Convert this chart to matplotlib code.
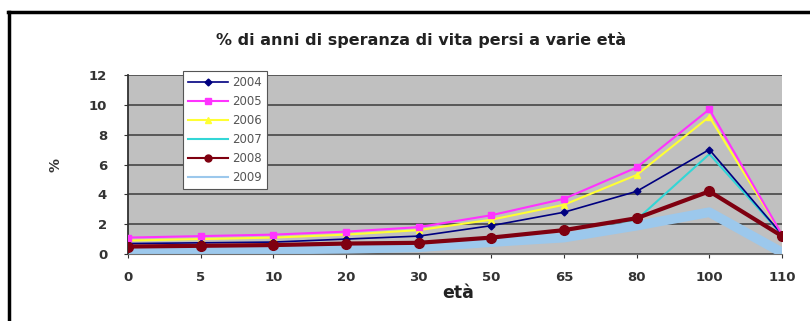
import matplotlib
matplotlib.use("Agg")
import matplotlib.pyplot as plt
from matplotlib.lines import Line2D

plt.rcParams['font.family'] = ['DejaVu Sans']

ages = ["0", "5", "10", "20", "30", "50", "65", "80", "100", "110"]
years = ["2004", "2005", "2006", "2007", "2008", "2009"]

v2004 = [0.7, 0.75, 0.8, 1.0, 1.2, 1.9, 2.8, 4.2, 7.0, 1.3]
v2005 = [1.1, 1.2, 1.3, 1.5, 1.8, 2.6, 3.7, 5.8, 9.7, 1.3]
v2006 = [0.9, 1.0, 1.1, 1.3, 1.6, 2.3, 3.3, 5.3, 9.2, 1.3]
v2007 = [0.5, 0.55, 0.6, 0.7, 0.8, 1.1, 1.6, 2.3, 6.7, 1.3]
v2008 = [0.5, 0.55, 0.6, 0.7, 0.75, 1.1, 1.6, 2.4, 4.2, 1.2]
v2009 = [0.3, 0.3, 0.3, 0.35, 0.45, 0.8, 1.1, 1.9, 2.8, 0.1]

W, H = 810, 321
fig = plt.figure(figsize=(W / 100, H / 100), dpi=100)
fig.patch.set_facecolor("white")

# outer chart frame (top and left edges)
fig.add_artist(Line2D([8 / W, 1.0], [1 - 12 / H, 1 - 12 / H], color="black", lw=2.5))
fig.add_artist(Line2D([9 / W, 9 / W], [0, 1 - 12 / H], color="black", lw=2.5))

left, right, top, bottom = 128, 782, 75, 254
ax = fig.add_axes([left / W, 1 - bottom / H, (right - left) / W, (bottom - top) / H])
ax.set_facecolor("#c0c0c0")

x = list(range(len(ages)))

ax.plot(x, v2009, color="#9cc8ec", lw=7, solid_capstyle="round", zorder=2)
ax.plot(x, v2007, color="#33d6d6", lw=1.5, zorder=3)
ax.plot(x, v2006, color="#ffff33", lw=1.5, marker="^", ms=5, zorder=4)
ax.plot(x, v2005, color="#ff33ff", lw=1.5, marker="s", ms=5, zorder=5)
ax.plot(x, v2004, color="#000080", lw=1.2, marker="D", ms=3.5, zorder=4)
ax.plot(x, v2008, color="#7f0010", lw=3, marker="o", ms=7, zorder=6)

ax.set_xlim(0, len(ages) - 1)
ax.set_ylim(0, 12)
ax.set_yticks(range(0, 13, 2))
ax.set_xticks(x)
ax.set_xticklabels(ages)
ax.yaxis.grid(True, color="#505050", lw=1.3)
ax.set_axisbelow(True)

for s in ["top", "right"]:
    ax.spines[s].set_visible(False)
ax.spines["left"].set_color("#303030")
ax.spines["bottom"].set_color("#707070")
ax.spines["left"].set_linewidth(1.3)

ax.tick_params(axis="y", length=3, pad=12, labelsize=9.5, colors="#333333")
ax.tick_params(axis="x", length=3, pad=9, labelsize=9.5, colors="#333333")
for t in ax.get_xticklabels() + ax.get_yticklabels():
    t.set_fontweight("bold")

fig.text(421 / W, 1 - 40 / H, "% di anni di speranza di vita persi a varie età",
         ha="center", va="center", fontsize=11.5, fontweight="bold", color="#222222")
fig.text(55 / W, 1 - 165 / H, "%", ha="center", va="center", rotation=90,
         fontsize=10, fontweight="bold", color="#333333")
fig.text(458 / W, 1 - 293 / H, "età", ha="center", va="center",
         fontsize=12.5, fontweight="bold", color="#222222")

handles = [
    Line2D([], [], color="#000080", lw=1.2, marker="D", ms=3.5),
    Line2D([], [], color="#ff33ff", lw=1.5, marker="s", ms=5),
    Line2D([], [], color="#ffff33", lw=1.5, marker="^", ms=5),
    Line2D([], [], color="#33d6d6", lw=1.5),
    Line2D([], [], color="#7f0010", lw=1.5, marker="o", ms=5),
    Line2D([], [], color="#9cc8ec", lw=1.5),
]
leg = fig.legend(handles, years, loc="upper left",
                 bbox_to_anchor=(183 / W, 1 - 71 / H), fontsize=8.5,
                 handlelength=3.4, handletextpad=0.3, labelspacing=0.5,
                 borderpad=0.45, borderaxespad=0, fancybox=False, framealpha=1,
                 edgecolor="#555555", facecolor="white")
leg.get_frame().set_linewidth(0.8)
for t in leg.get_texts():
    t.set_color("#555555")

fig.savefig("out.png", dpi=100)
